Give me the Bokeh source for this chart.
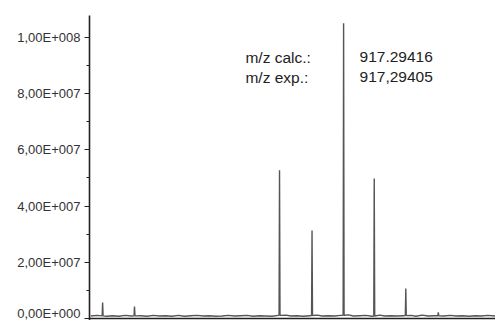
from bokeh.plotting import figure
from bokeh.models import FixedTicker, Range1d, Span, Label
from bokeh.embed import file_html
from bokeh.resources import INLINE
import numpy as np

# ---- data ----
peak_mz = [909.58, 910.60, 915.24, 916.28, 917.29, 918.27, 919.28, 920.32]
peak_int = [5.7e6, 4.3e6, 5.27e7, 3.13e7, 1.05e8, 4.98e7, 1.07e7, 2.2e6]

baseline_mz = [909.2, 909.4, 909.7, 909.9, 910.1, 910.3, 910.5, 910.8, 911.0, 911.2,
               911.4, 911.6, 911.8, 912.0, 912.2, 912.4, 912.6, 912.8, 913.0, 913.2,
               913.4, 913.6, 913.8, 914.0, 914.2, 914.4, 914.6, 914.8, 915.0, 915.2,
               915.45, 915.6, 915.8, 916.0, 916.2, 916.45, 916.6, 916.8, 917.0, 917.2,
               917.45, 917.6, 917.8, 918.0, 918.2, 918.45, 918.6, 918.8, 919.0, 919.2,
               919.45, 919.6, 919.8, 920.0, 920.2, 920.5, 920.7, 920.9, 921.1, 921.3,
               921.5, 921.7, 921.9, 922.15]
baseline_int = [0.9e6, 1.1e6, 0.8e6, 1.0e6, 0.8e6, 1.1e6, 0.9e6, 1.0e6, 0.8e6, 1.1e6,
                0.9e6, 1.0e6, 0.8e6, 1.1e6, 0.8e6, 1.0e6, 1.1e6, 0.9e6, 1.0e6, 0.8e6,
                0.9e6, 1.1e6, 0.9e6, 1.0e6, 1.1e6, 0.8e6, 1.0e6, 0.9e6, 0.8e6, 1.1e6,
                1.2e6, 0.9e6, 1.0e6, 0.8e6, 1.0e6, 1.2e6, 0.9e6, 1.0e6, 0.9e6, 1.1e6,
                1.3e6, 0.9e6, 1.0e6, 1.1e6, 0.8e6, 1.2e6, 0.9e6, 1.0e6, 0.9e6, 1.0e6,
                1.1e6, 0.8e6, 1.2e6, 0.9e6, 1.0e6, 0.9e6, 1.1e6, 0.9e6, 1.0e6, 0.8e6,
                1.0e6, 0.9e6, 1.1e6, 0.9e6]

y_ticks = [0, 2e7, 4e7, 6e7, 8e7, 1e8]
y_tick_labels = ["0,00E+000", "2,00E+007", "4,00E+007", "6,00E+007", "8,00E+007", "1,00E+008"]
y_minor = [1e7, 3e7, 5e7, 7e7, 9e7]

ann_keys = ["m/z calc.:", "m/z exp.:"]
ann_vals = ["917.29416", "917,29405"]

# ---- build spectrum line ----
xs = list(baseline_mz)
ys = list(baseline_int)
hw = 0.015
for m, h in zip(peak_mz, peak_int):
    b = float(np.interp(m, baseline_mz, baseline_int))
    xs += [m - hw, m, m + hw]
    ys += [b, h, b]
order = np.argsort(xs)
xs = np.array(xs)[order]
ys = np.array(ys)[order]

p = figure(width=495, height=320, output_backend="svg", toolbar_location=None,
           x_range=Range1d(909.16, 922.15), y_range=Range1d(-0.71e6, 107.8e6),
           min_border_left=89, min_border_right=0, min_border_top=15, min_border_bottom=0)
p.outline_line_color = None
p.grid.visible = False
p.xaxis.visible = False
p.background_fill_color = "white"

p.line(xs, ys, line_color="#555555", line_width=1.4)

p.add_layout(Span(location=0, dimension="width", line_color="#222222", line_width=1.6))

ax = p.yaxis[0]
ax.ticker = FixedTicker(ticks=y_ticks, minor_ticks=y_minor)
ax.major_label_overrides = {t: l for t, l in zip(y_ticks, y_tick_labels)}
ax.major_label_text_font = "Liberation Sans"
ax.major_label_text_font_size = "13px"
ax.major_label_text_color = "#333333"
ax.major_label_standoff = 4
ax.axis_line_color = "#222222"
ax.axis_line_width = 1.6
ax.major_tick_line_color = "#222222"
ax.major_tick_line_width = 1.2
ax.major_tick_out = 5
ax.major_tick_in = 0
ax.minor_tick_line_color = "#222222"
ax.minor_tick_line_width = 1.2
ax.minor_tick_out = 3
ax.minor_tick_in = 0

ann_y = [92.9e6, 85.8e6]
for k, v, yy in zip(ann_keys, ann_vals, ann_y):
    p.add_layout(Label(x=914.15, y=yy, text=k, text_font="Liberation Sans",
                       text_font_size="15.5px", text_baseline="middle", text_color="#222222"))
    p.add_layout(Label(x=917.80, y=yy, text=v, text_font="Liberation Sans",
                       text_font_size="15.5px", text_baseline="middle", text_color="#222222"))

open("out.html", "w").write(file_html(p, INLINE))
